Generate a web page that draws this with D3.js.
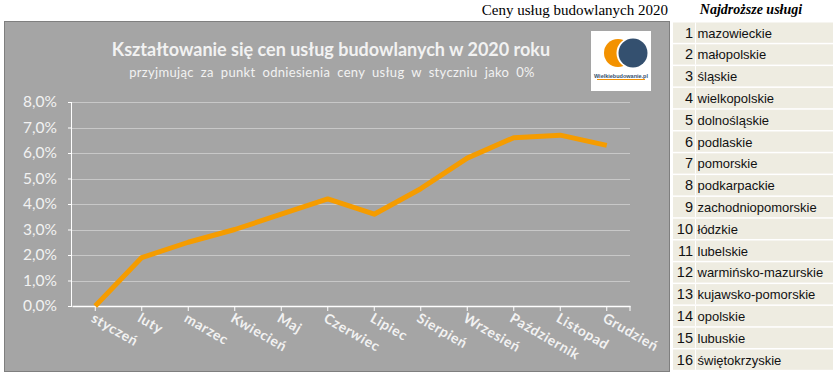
<!DOCTYPE html>
<html>
<head>
<meta charset="utf-8">
<script src="https://cdn.jsdelivr.net/npm/d3@7"></script>
<style>
  body { margin: 0; background: #fff; }
  svg { display: block; }
</style>
</head>
<body>
<script>
// data
var months = ["styczeń", "luty", "marzec", "Kwiecień", "Maj", "Czerwiec",
              "Lipiec", "Sierpień", "Wrzesień", "Październik", "Listopad", "Grudzień"];
var priceChange = [0, 1.9, 2.5, 3.0, 3.6, 4.2, 3.6, 4.6, 5.8, 6.6, 6.7, 6.3];
var yTicks = [0, 1, 2, 3, 4, 5, 6, 7, 8];
var regions = ["mazowieckie", "małopolskie", "śląskie", "wielkopolskie", "dolnośląskie",
               "podlaskie", "pomorskie", "podkarpackie", "zachodniopomorskie", "łódzkie",
               "lubelskie", "warmińsko-mazurskie", "kujawsko-pomorskie", "opolskie",
               "lubuskie", "świętokrzyskie"];

var width = 833,
    height = 374,
    plotLeft = 72,
    plotRight = 630,
    plotTop = 102,
    plotBottom = 306;

var x = d3.scaleBand().domain(months).range([plotLeft, plotRight]),
    y = d3.scaleLinear().domain([0, 8]).range([plotBottom, plotTop]);

var svg = d3.select("body")
    .append("svg")
        .attr("width", width)
        .attr("height", height);

// grey chart panel
svg.append("rect")
    .attr("x", 4.5).attr("y", 21.5)
    .attr("width", 665).attr("height", 350)
    .attr("fill", "#a5a5a5")
    .attr("stroke", "#7f7f7f");

// titles
svg.append("text")
    .attr("x", 331).attr("y", 56)
    .attr("text-anchor", "middle")
    .attr("font-family", "Lato, sans-serif")
    .attr("font-weight", "bold")
    .attr("font-size", 18)
    .attr("fill", "#f2f2f2")
    .text("Kształtowanie się cen usług budowlanych w 2020 roku");

svg.append("text")
    .attr("x", 332).attr("y", 77)
    .attr("text-anchor", "middle")
    .attr("font-family", "Lato, sans-serif")
    .attr("font-size", 13)
    .attr("word-spacing", 3.5)
    .attr("letter-spacing", 0.3)
    .attr("fill", "#f2f2f2")
    .text("przyjmując za punkt odniesienia ceny usług w styczniu jako 0%");

// logo
var logo = svg.append("g");
logo.append("rect")
    .attr("x", 591).attr("y", 31).attr("width", 60).attr("height", 60)
    .attr("fill", "#fff");
logo.append("circle").attr("cx", 618).attr("cy", 53).attr("r", 14).attr("fill", "#f39200");
logo.append("circle").attr("cx", 632).attr("cy", 53).attr("r", 15.5).attr("fill", "#fff");
logo.append("circle").attr("cx", 633).attr("cy", 53).attr("r", 14.5).attr("fill", "#34506f");
logo.append("text")
    .attr("x", 621).attr("y", 78)
    .attr("text-anchor", "middle")
    .attr("font-family", "Arial, sans-serif")
    .attr("font-weight", "bold")
    .attr("font-size", 5.5)
    .attr("fill", "#34506f")
    .text("Wielkiebudowanie.pl");
logo.append("line")
    .attr("x1", 597).attr("x2", 645).attr("y1", 79.5).attr("y2", 79.5)
    .attr("stroke", "#f39200").attr("stroke-width", 1);

// gridlines
svg.append("g")
    .selectAll("line")
    .data(yTicks.slice(1))
    .enter()
    .append("line")
        .attr("x1", plotLeft).attr("x2", plotRight)
        .attr("y1", function(d) { return Math.round(y(d)) + 0.5; })
        .attr("y2", function(d) { return Math.round(y(d)) + 0.5; })
        .attr("stroke", "#c8c8c8")
        .attr("stroke-width", 1);

// y axis
var yAxis = svg.append("g")
    .attr("transform", "translate(" + plotLeft + ",0)")
    .call(d3.axisLeft(y)
        .tickValues(yTicks)
        .tickSize(4)
        .tickPadding(11)
        .tickFormat(function(d) { return d3.format(".1f")(d).replace(".", ",") + "%"; }));
yAxis.select(".domain").attr("stroke", "#fff").attr("d", "M-0.5," + plotTop + "V" + (plotBottom + 0.5));
yAxis.selectAll(".tick line").attr("stroke", "#fff");
yAxis.selectAll(".tick text")
    .attr("fill", "#f2f2f2")
    .attr("font-family", "Lato, sans-serif")
    .attr("font-size", 15.5);

// x axis
var xAxis = svg.append("g")
    .attr("transform", "translate(0," + plotBottom + ")")
    .call(d3.axisBottom(x).tickSize(5).tickSizeOuter(0));
xAxis.select(".domain").attr("stroke", "#fff").attr("stroke-width", 1.5);
xAxis.selectAll(".tick line").attr("stroke", "#fff");
xAxis.append("line")
    .attr("x1", plotRight).attr("x2", plotRight).attr("y1", 0).attr("y2", 5)
    .attr("stroke", "#fff");
xAxis.selectAll(".tick text")
    .attr("fill", "#f2f2f2")
    .attr("font-family", "Lato, sans-serif")
    .attr("font-weight", "bold")
    .attr("font-size", 14)
    .attr("letter-spacing", 0.6)
    .attr("text-anchor", "start")
    .attr("dy", null)
    .attr("y", 0)
    .attr("transform", "translate(-5,15) rotate(30)");

// line
var line = d3.line()
    .x(function(d, i) { return x(months[i]) + x.bandwidth() / 2; })
    .y(function(d) { return y(d); });

svg.append("path")
    .datum(priceChange)
    .attr("d", line)
    .attr("fill", "none")
    .attr("stroke", "#f59c00")
    .attr("stroke-width", 5)
    .attr("stroke-linejoin", "round");

// right side header
svg.append("text")
    .attr("x", 668).attr("y", 15)
    .attr("text-anchor", "end")
    .attr("font-family", "'Liberation Serif', serif")
    .attr("font-size", 15)
    .attr("fill", "#000")
    .text("Ceny usług budowlanych 2020");

svg.append("text")
    .attr("x", 751).attr("y", 14)
    .attr("text-anchor", "middle")
    .attr("font-family", "'Liberation Serif', serif")
    .attr("font-weight", "bold")
    .attr("font-style", "italic")
    .attr("font-size", 14)
    .attr("fill", "#000")
    .text("Najdroższe usługi");

// ranking table
var rowH = 21.8,
    tableTop = 22.5,
    tableLeft = 673;

var rows = svg.append("g")
    .selectAll("g")
    .data(regions)
    .enter()
    .append("g")
        .attr("transform", function(d, i) { return "translate(" + tableLeft + "," + (tableTop + i * rowH) + ")"; });

rows.append("rect")
    .attr("width", width - tableLeft)
    .attr("height", rowH - 1.5)
    .attr("fill", "#eeece1");

rows.append("line")
    .attr("x1", 22.5).attr("x2", 22.5).attr("y1", 0).attr("y2", rowH - 1.5)
    .attr("stroke", "#ffffff").attr("stroke-width", 1);

rows.append("text")
    .attr("x", 20).attr("y", 15)
    .attr("text-anchor", "end")
    .attr("font-family", "'Liberation Sans', Arial, sans-serif")
    .attr("font-size", 14.5)
    .attr("fill", "#111")
    .text(function(d, i) { return i + 1; });

rows.append("text")
    .attr("x", 24.5).attr("y", 15)
    .attr("font-family", "'Liberation Sans', Arial, sans-serif")
    .attr("font-size", 13)
    .attr("fill", "#111")
    .text(function(d) { return d; });
</script>
</body>
</html>
